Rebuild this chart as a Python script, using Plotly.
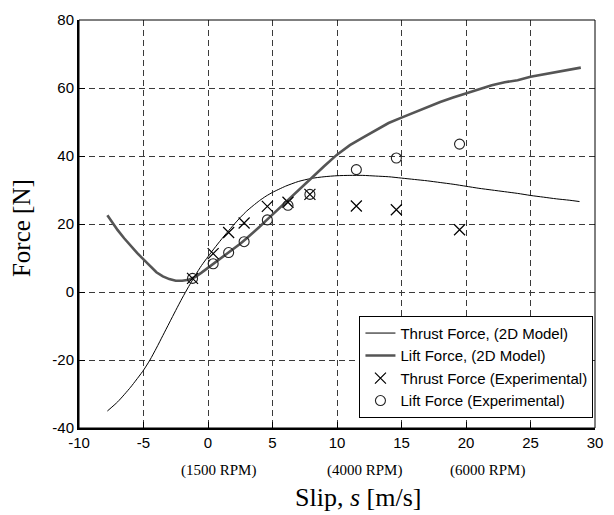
import plotly.graph_objects as go

# 2D model curves: slip s [m/s] vs force [N]
thrust_model_s = [-7.8, -7, -6, -5, -4.5, -4, -3.5, -3, -2.5, -2, -1.5, -1, -0.5, 0, 0.5, 1, 1.5, 2,
                  2.5, 3, 3.5, 4, 4.5, 5, 6, 7, 8, 9, 10, 11, 12, 13, 14, 15, 16, 17, 18, 19,
                  20, 21, 22, 23, 24, 25, 26, 27, 28, 28.8]
thrust_model_f = [-35, -32.3, -28, -23, -20, -16.5, -12.8, -9.1, -5.4, -1.8, 1.6, 4.8, 7.8, 10.4, 12.9, 15.3, 17.6, 19.8,
                  21.9, 23.8, 25.4, 26.9, 28.2, 29.3, 31.1, 32.5, 33.4, 33.9, 34.2, 34.3, 34.3, 34.1, 33.9, 33.5, 33.1, 32.7, 32.2, 31.7,
                  31.1, 30.5, 30.0, 29.5, 29.0, 28.4, 27.9, 27.4, 27.0, 26.6]

lift_model_s = [-7.8, -7.3, -7, -6.5, -6, -5.5, -5, -4.5, -4, -3.5, -3, -2.5, -2, -1.5, -1, -0.5, 0, 0.5,
                1, 1.5, 2, 2.5, 3, 3.5, 4, 4.5, 5, 6, 7, 8, 9, 10, 11, 12, 13, 14, 15, 16,
                17, 18, 19, 20, 21, 22, 23, 24, 25, 26, 27, 28, 28.9]
lift_model_f = [22.6, 19.7, 18.2, 15.8, 13.6, 11.5, 9.6, 7.6, 5.8, 4.6, 3.8, 3.3, 3.3, 3.6, 4.4, 5.7, 7.1, 8.5,
                9.9, 11.3, 12.7, 14.2, 15.8, 17.4, 19.2, 21.0, 22.8, 26.2, 29.8, 33.4, 37.0, 40.4, 43.2, 45.4, 47.6, 49.7, 51.3, 52.9,
                54.4, 55.9, 57.2, 58.4, 59.6, 60.8, 61.7, 62.3, 63.3, 64.0, 64.7, 65.4, 66.0]

# Experimental measurements
exp_s = [-1.2, 0.4, 1.6, 2.8, 4.6, 6.2, 7.9, 11.5, 14.6, 19.5]
thrust_exp = [4.0, 11.3, 17.5, 20.3, 25.2, 26.4, 28.7, 25.3, 24.2, 18.3]
lift_exp = [4.0, 8.3, 11.6, 14.8, 21.2, 25.5, 28.7, 36.0, 39.4, 43.5]

x_ticks = [-10, -5, 0, 5, 10, 15, 20, 25, 30]
x_tick_text = ["-10", "-5", "0", "5", "10", "15", "20", "25", "30"]
y_ticks = [-40, -20, 0, 20, 40, 60, 80]
y_tick_text = ["-40", "-20", "0", "20", "40", "60", "80"]
rpm_labels = ["(1500 RPM)", "(4000 RPM)", "(6000 RPM)"]
rpm_slip = [0.8, 12.1, 21.7]

SANS = "Liberation Sans, Arial, sans-serif"
SERIF = "Liberation Serif, Times New Roman, serif"

fig = go.Figure()
fig.add_trace(go.Scatter(x=thrust_model_s, y=thrust_model_f, mode="lines",
                         name="Thrust Force, (2D Model)",
                         line=dict(color="black", width=1, shape="spline", smoothing=0.6)))
fig.add_trace(go.Scatter(x=lift_model_s, y=lift_model_f, mode="lines",
                         name="Lift Force, (2D Model)",
                         line=dict(color="#555555", width=2.6)))
fig.add_trace(go.Scatter(x=exp_s, y=thrust_exp, mode="markers",
                         name="Thrust Force (Experimental)",
                         marker=dict(symbol="x-thin", size=11, color="black",
                                     line=dict(color="black", width=1.2))))
fig.add_trace(go.Scatter(x=exp_s, y=lift_exp, mode="markers",
                         name="Lift Force (Experimental)",
                         marker=dict(symbol="circle-open", size=10, color="#222222",
                                     line=dict(color="#222222", width=1.1))))

axis_common = dict(showline=True, linecolor="black", linewidth=2, mirror=False,
                   showgrid=True, gridcolor="#3a3a3a", gridwidth=1, griddash="6px,4px",
                   zeroline=False, ticks="inside", ticklen=6, tickwidth=1, tickcolor="black",
                   tickfont=dict(family=SANS, size=15, color="black"))

fig.update_xaxes(range=[-10, 30], tickvals=x_ticks, ticktext=x_tick_text, **axis_common)
fig.update_yaxes(range=[-40, 80], tickvals=y_ticks, ticktext=y_tick_text, **axis_common)

# thin frame on top and right
fig.add_shape(type="rect", xref="paper", yref="paper", x0=0, y0=0, x1=1, y1=1,
              line=dict(color="black", width=1), layer="above")

annotations = [
    dict(text="Force [N]", xref="paper", yref="paper", x=0, y=0.49, xshift=-58,
         xanchor="center", yanchor="middle", textangle=-90, showarrow=False,
         font=dict(family=SERIF, size=25, color="black")),
    dict(text="Slip, <i>s</i> [m/s]", xref="paper", yref="paper", x=0.54, y=0, yshift=-69,
         xanchor="center", yanchor="middle", showarrow=False,
         font=dict(family=SERIF, size=26, color="black")),
]
for lbl, s in zip(rpm_labels, rpm_slip):
    annotations.append(dict(text=lbl, xref="x", yref="paper", x=s, y=0, yshift=-42,
                            xanchor="center", yanchor="middle", showarrow=False,
                            font=dict(family=SERIF, size=15, color="black")))

fig.update_layout(
    width=614, height=515,
    margin=dict(l=79, r=11, t=14, b=87),
    paper_bgcolor="white", plot_bgcolor="white",
    showlegend=True,
    legend=dict(x=0.997, y=0.275, xanchor="right", yanchor="top",
                bgcolor="white", bordercolor="black", borderwidth=1,
                font=dict(family=SANS, size=15, color="black"),
                itemwidth=30, tracegroupgap=0),
    annotations=annotations,
)

fig.write_html("out.html")
